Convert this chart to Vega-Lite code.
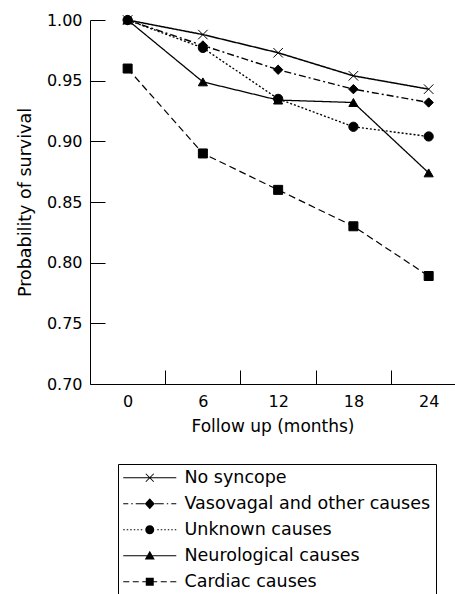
{
  "$schema": "https://vega.github.io/schema/vega-lite/v6.json",
  "width": 365,
  "height": 364,
  "autosize": {"type": "none"},
  "padding": {"left": 90, "top": 20, "right": 0, "bottom": 210},
  "background": "white",
  "config": {
    "view": {"stroke": null},
    "font": "DejaVu Sans",
    "axis": {
      "domainColor": "black",
      "domainWidth": 1,
      "tickColor": "black",
      "tickWidth": 1,
      "labelColor": "black",
      "titleColor": "black",
      "labelFont": "DejaVu Sans",
      "titleFont": "DejaVu Sans",
      "labelFontSize": 16,
      "titleFontSize": 17,
      "titleFontWeight": "normal",
      "grid": false
    },
    "legend": {
      "labelFont": "DejaVu Sans",
      "labelFontSize": 17.5,
      "labelColor": "black"
    }
  },
  "data": {
    "values": [
      {"series": "No syncope", "month": 0, "p": 1.0},
      {"series": "No syncope", "month": 6, "p": 0.988},
      {"series": "No syncope", "month": 12, "p": 0.973},
      {"series": "No syncope", "month": 18, "p": 0.954},
      {"series": "No syncope", "month": 24, "p": 0.943},
      {"series": "Vasovagal and other causes", "month": 0, "p": 1.0},
      {"series": "Vasovagal and other causes", "month": 6, "p": 0.979},
      {"series": "Vasovagal and other causes", "month": 12, "p": 0.959},
      {"series": "Vasovagal and other causes", "month": 18, "p": 0.943},
      {"series": "Vasovagal and other causes", "month": 24, "p": 0.932},
      {"series": "Unknown causes", "month": 0, "p": 1.0},
      {"series": "Unknown causes", "month": 6, "p": 0.977},
      {"series": "Unknown causes", "month": 12, "p": 0.935},
      {"series": "Unknown causes", "month": 18, "p": 0.912},
      {"series": "Unknown causes", "month": 24, "p": 0.904},
      {"series": "Neurological causes", "month": 0, "p": 1.0},
      {"series": "Neurological causes", "month": 6, "p": 0.949},
      {"series": "Neurological causes", "month": 12, "p": 0.934},
      {"series": "Neurological causes", "month": 18, "p": 0.932},
      {"series": "Neurological causes", "month": 24, "p": 0.874},
      {"series": "Cardiac causes", "month": 0, "p": 0.96},
      {"series": "Cardiac causes", "month": 6, "p": 0.89},
      {"series": "Cardiac causes", "month": 12, "p": 0.86},
      {"series": "Cardiac causes", "month": 18, "p": 0.83},
      {"series": "Cardiac causes", "month": 24, "p": 0.789}
    ]
  },
  "encoding": {
    "x": {
      "field": "month",
      "type": "quantitative",
      "scale": {"domain": [-3, 26.1], "nice": false, "zero": false},
      "axis": {
        "values": [0, 6, 12, 18, 24],
        "title": "Follow up (months)",
        "tickOffset": 37.6,
        "labelOffset": -37.6,
        "tickSize": -14,
        "labelPadding": 23,
        "titlePadding": 9
      }
    },
    "y": {
      "field": "p",
      "type": "quantitative",
      "scale": {"domain": [0.7, 1.0], "nice": false, "zero": false},
      "axis": {
        "values": [0.7, 0.75, 0.8, 0.85, 0.9, 0.95, 1.0],
        "format": ".2f",
        "title": "Probability of survival",
        "titleFontSize": 17.5,
        "tickSize": -15,
        "labelPadding": 23,
        "titlePadding": 12
      }
    }
  },
  "layer": [
    {
      "mark": {"type": "line", "color": "black"},
      "encoding": {
        "detail": {"field": "series"},
        "strokeDash": {
          "field": "series",
          "scale": {
            "domain": ["No syncope", "Vasovagal and other causes", "Unknown causes", "Neurological causes", "Cardiac causes"],
            "range": [[1, 0], [7, 3, 2, 3], [2, 2], [1, 0], [7, 4]]
          },
          "legend": null
        },
        "strokeWidth": {
          "field": "series",
          "scale": {
            "domain": ["No syncope", "Vasovagal and other causes", "Unknown causes", "Neurological causes", "Cardiac causes"],
            "range": [1.5, 1.2, 1.2, 1, 1.2]
          },
          "legend": null
        }
      }
    },
    {
      "mark": {"type": "point", "filled": true, "fill": "black", "stroke": "black", "strokeWidth": 1, "opacity": 1},
      "encoding": {
        "shape": {
          "field": "series",
          "scale": {
            "domain": ["No syncope", "Vasovagal and other causes", "Unknown causes", "Neurological causes", "Cardiac causes"],
            "range": ["M-1,-1L1,1M-1,1L1,-1", "diamond", "circle", "triangle-up", "square"]
          },
          "legend": null
        },
        "size": {
          "field": "series",
          "scale": {
            "domain": ["No syncope", "Vasovagal and other causes", "Unknown causes", "Neurological causes", "Cardiac causes"],
            "range": [90, 81, 72, 100, 64]
          },
          "legend": null
        }
      }
    },
    {
      "transform": [{"filter": "datum.p > 2"}],
      "mark": {"type": "point", "filled": true, "color": "black", "opacity": 1, "size": 289},
      "encoding": {
        "shape": {
          "field": "series",
          "scale": {
            "domain": ["No syncope", "Vasovagal and other causes", "Unknown causes", "Neurological causes", "Cardiac causes"],
            "range": [
              "M-1,-0.07H5.24V0.07H-1ZM1.69,-0.51L2.63,0.43L2.55,0.51L1.61,-0.43ZM1.61,0.43L2.55,-0.51L2.63,-0.43L1.69,0.51Z",
              "M-1,-0.06H-0.41V0.06H-1ZM-0.06,-0.06H0.12V0.06H-0.06ZM0.47,-0.06H1.53V0.06H0.47ZM2.71,-0.06H3.77V0.06H2.71ZM4.12,-0.06H4.29V0.06H4.12ZM4.65,-0.06H5.24V0.06H4.65ZM2.12,-0.65L2.71,0L2.12,0.65L1.53,0Z",
              "M-1,-0.06H-0.82V0.06H-1ZM-0.59,-0.06H-0.41V0.06H-0.59ZM-0.18,-0.06H0V0.06H-0.18ZM0.24,-0.06H0.41V0.06H0.24ZM0.65,-0.06H0.82V0.06H0.65ZM1.06,-0.06H1.24V0.06H1.06ZM3,-0.06H3.18V0.06H3ZM3.41,-0.06H3.59V0.06H3.41ZM3.82,-0.06H4V0.06H3.82ZM4.24,-0.06H4.41V0.06H4.24ZM4.65,-0.06H4.82V0.06H4.65ZM5.06,-0.06H5.24V0.06H5.06ZM1.59,0A0.53,0.53 0 1,0 2.65,0A0.53,0.53 0 1,0 1.59,0Z",
              "M-1,-0.06H5.24V0.06H-1ZM2.12,-0.6L2.71,0.45L1.53,0.45Z",
              "M-1,-0.06H-0.29V0.06H-1ZM0.12,-0.06H0.82V0.06H0.12ZM1.24,-0.06H1.65V0.06H1.24ZM2.59,-0.06H3V0.06H2.59ZM3.41,-0.06H4.12V0.06H3.41ZM4.53,-0.06H5.24V0.06H4.53ZM1.65,-0.47H2.59V0.47H1.65Z"
            ]
          },
          "legend": {
            "title": null,
            "orient": "none",
            "legendX": 28,
            "legendY": 444,
            "strokeColor": "black",
            "fillColor": "white",
            "padding": 5,
            "cornerRadius": 0,
            "symbolSize": 289,
            "symbolFillColor": "black",
            "symbolStrokeWidth": 0,
            "symbolOpacity": 1,
            "labelOffset": 44,
            "labelLimit": 400,
            "rowPadding": 7,
            "encode": {
              "symbols": {
                "update": {
                  "fill": {"value": "black"},
                  "fillOpacity": {"value": 1},
                  "opacity": {"value": 1}
                }
              }
            }
          }
        }
      }
    }
  ],
  "resolve": {"scale": {"shape": "independent", "size": "independent"}}
}
